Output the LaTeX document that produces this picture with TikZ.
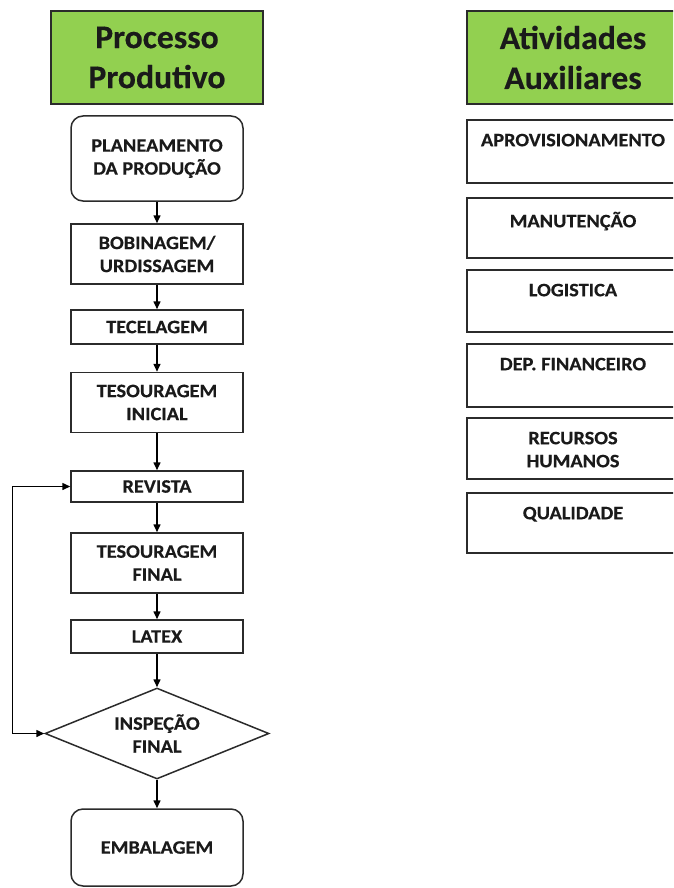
\documentclass[tikz,border=0pt]{standalone}
\usepackage{fontspec}
\setmainfont{Carlito}
\newfontfamily\boxfont{Carlito}[FakeStretch=1.07, FakeBold=0.4]
\newfontfamily\headfont{Carlito}[FakeStretch=1.02, FakeBold=0.4]
\usetikzlibrary{shapes.geometric,arrows.meta}
\definecolor{titlegreen}{HTML}{92D050}
\definecolor{edge}{HTML}{2B2B2B}
\definecolor{ink}{HTML}{1A1A1A}
\tikzset{
  base/.style={draw=edge, line width=1.5pt, text=ink, font=\boxfont\fontsize{19}{23}\selectfont\bfseries, align=center, inner sep=0pt},
  titlebox/.style={base, fill=titlegreen, minimum width=212pt, minimum height=93pt, font=\headfont\fontsize{33}{40}\selectfont\bfseries},
  procbox/.style={base, fill=white, minimum width=172pt},
  roundbox/.style={procbox, rounded corners=12pt},
  decision/.style={base, diamond, aspect=2.46, minimum width=224pt, minimum height=91pt, fill=white},
  auxbox/.style={base, fill=white, minimum width=212pt},
  auxtext/.style={anchor=north, yshift=-11pt, align=center, text=ink, font=\boxfont\fontsize{19}{23}\selectfont\bfseries},
  tip/.tip={Triangle[length=8pt,width=7pt]},
  flow/.style={draw=black, line width=1.5pt, -tip},
  loop/.style={draw=black, line width=1.5pt, tip-tip}
}
\begin{document}
\begin{tikzpicture}[x=1pt, y=-1pt]
\useasboundingbox (0,0) rectangle (673,888);
\clip (0,0) rectangle (673,888);

% production process column
\node[titlebox] (ptitle) at (157,57.5) {Processo\\Produtivo};
\node[roundbox, minimum height=85pt] (plan) at (157,158.5) {PLANEAMENTO\\DA PRODUÇÃO};
\node[procbox, minimum height=60pt] (bob) at (157,254) {BOBINAGEM/\\URDISSAGEM};
\node[procbox, minimum height=34pt] (tec) at (157,327) {TECELAGEM};
\node[procbox, minimum height=60pt] (tesi) at (157,402.5) {TESOURAGEM\\INICIAL};
\node[procbox, minimum height=31pt] (rev) at (157,486.5) {REVISTA};
\node[procbox, minimum height=60pt] (tesf) at (157,563) {TESOURAGEM\\FINAL};
\node[procbox, minimum height=33pt] (lat) at (157,636.5) {LATEX};
\node[decision] (insp) at (157,733.5) {INSPEÇÃO\\FINAL};
\node[roundbox, minimum height=77pt] (emb) at (157,847.5) {EMBALAGEM};

\draw[flow] (plan) -- (bob);
\draw[flow] (bob) -- (tec);
\draw[flow] (tec) -- (tesi);
\draw[flow] (tesi) -- (rev);
\draw[flow] (rev) -- (tesf);
\draw[flow] (tesf) -- (lat);
\draw[flow] (lat) -- (insp);
\draw[flow] (insp) -- (emb);
\draw[loop] (insp.west) -- ++(-32,0) |- (rev.west);

% auxiliary activities column
\node[titlebox] (atitle) at (573,57.5) {Atividades\\Auxiliares};
\node[auxbox, minimum height=63pt, label={[auxtext]north:APROVISIONAMENTO}] (aprov) at (573,151.5) {};
\node[auxbox, minimum height=60pt, label={[auxtext]north:MANUTENÇÃO}] (manut) at (573,228) {};
\node[auxbox, minimum height=62pt, label={[auxtext]north:LOGISTICA}] (logi) at (573,301) {};
\node[auxbox, minimum height=63pt, label={[auxtext]north:DEP. FINANCEIRO}] (fin) at (573,375.5) {};
\node[auxbox, minimum height=61pt, label={[auxtext]north:RECURSOS\\HUMANOS}] (rh) at (573,448.5) {};
\node[auxbox, minimum height=60pt, label={[auxtext]north:QUALIDADE}] (qual) at (573,523) {};
\end{tikzpicture}
\end{document}
